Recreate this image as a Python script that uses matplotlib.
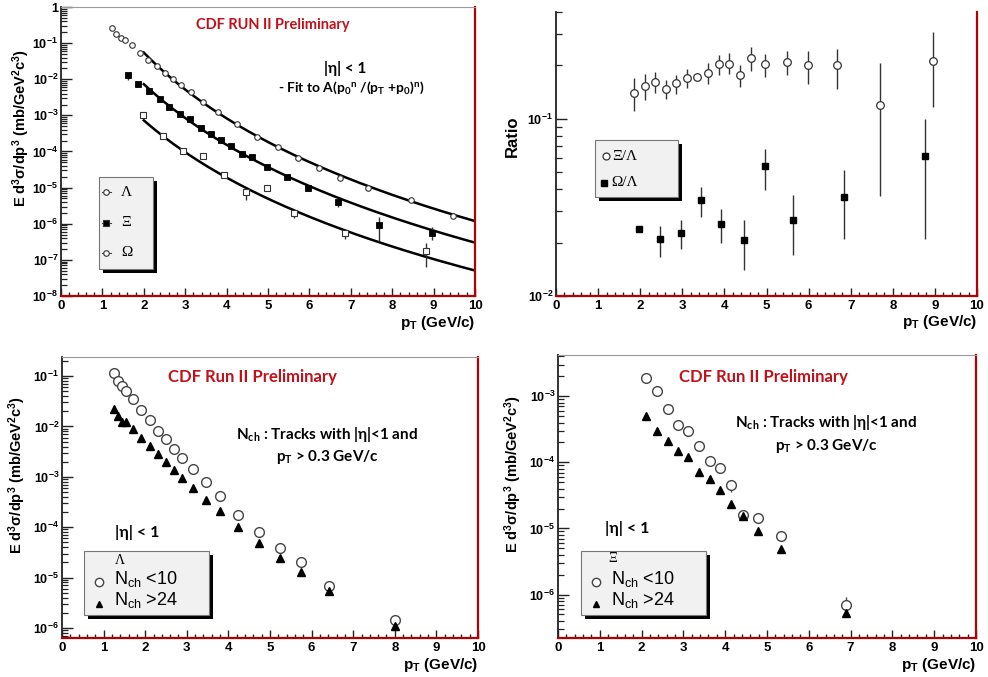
import numpy as np
import matplotlib
matplotlib.use('Agg')
import matplotlib.pyplot as plt
from matplotlib.ticker import LogLocator, FuncFormatter, MultipleLocator, NullFormatter
from matplotlib.patches import Rectangle
from matplotlib.lines import Line2D

plt.rcParams['font.family'] = ['Liberation Sans', 'DejaVu Sans']
plt.rcParams['font.weight'] = 'bold'
plt.rcParams['mathtext.default'] = 'regular'

# ---------------- data: top-left (spectra with fits) ----------------
lam_pt = [1.24, 1.34, 1.44, 1.55, 1.71, 1.91, 2.09, 2.31, 2.51, 2.71, 2.91, 3.13, 3.44, 3.80,
          4.24, 4.73, 5.23, 5.73, 6.24, 6.74, 7.42, 8.45, 9.46]
lam_y = [0.268, 0.183, 0.142, 0.125, 0.087, 0.053, 0.035, 0.0234, 0.015, 0.010, 0.0068, 0.0044,
         0.0024, 0.00125, 5.6e-4, 2.6e-4, 1.35e-4, 6.7e-5, 3.5e-5, 1.9e-5, 9.5e-6, 4.5e-6, 1.6e-6]

xi_pt = [1.61, 1.85, 2.13, 2.38, 2.62, 2.87, 3.12, 3.37, 3.62, 3.86, 4.11, 4.38, 4.61, 4.98,
         5.47, 5.97, 6.68, 7.68, 8.97]
xi_y = [0.0129, 0.0076, 0.0047, 0.0028, 0.0017, 0.00112, 7.8e-4, 4.6e-4, 3.1e-4, 2.06e-4,
        1.43e-4, 8.3e-5, 7.1e-5, 3.8e-5, 2.0e-5, 1.0e-5, 3.9e-6, 9.1e-7, 5.6e-7]
xi_edn = [0.0035, 0, 0, 0, 0, 0, 0, 0, 0, 0, 0, 0, 0, 0, 0, 0, 1.0e-6, 5.8e-7, 2.1e-7]
xi_eup = [0, 0, 0, 0, 0, 0, 0, 0, 0, 0, 0, 0, 0, 0, 0, 0, 1.0e-6, 6.0e-7, 2.4e-7]

om_pt = [1.99, 2.47, 2.95, 3.44, 3.94, 4.48, 4.98, 5.63, 6.86, 8.81]
om_y = [1.0e-3, 2.7e-4, 1.0e-4, 7.6e-5, 2.3e-5, 7.6e-6, 1.0e-5, 2.0e-6, 5.6e-7, 1.8e-7]
om_edn = [0, 0, 0, 0, 5e-6, 3e-6, 0, 6e-7, 1.8e-7, 1.15e-7]
om_eup = [0, 0, 0, 0, 0, 0, 0, 3e-7, 0, 1.1e-7]

# fit parameters A * p0^n / (pT + p0)^n  (Lambda, Xi, Omega)
fit_A = [336.5, 12.6, 0.735]
fit_p0 = [1.10, 1.38, 1.45]
fit_n = [8.42, 8.32, 7.98]
fit_range = [2.0, 10.0]

# ---------------- data: top-right (ratios) ----------------
rxi_pt = [1.86, 2.11, 2.36, 2.62, 2.86, 3.11, 3.36, 3.62, 3.88, 4.12, 4.37, 4.63, 4.97, 5.48,
          5.99, 6.68, 7.69, 8.96]
rxi_y = [0.1395, 0.153, 0.162, 0.1476, 0.159, 0.169, 0.171, 0.182, 0.204, 0.204, 0.177, 0.219,
         0.204, 0.208, 0.200, 0.200, 0.120, 0.211]
rxi_lo = [0.110, 0.128, 0.1395, 0.1284, 0.1371, 0.1488, 0.166, 0.1573, 0.1754, 0.179, 0.1508,
          0.187, 0.173, 0.1776, 0.1573, 0.1475, 0.0367, 0.1163]
rxi_hi = [0.1694, 0.179, 0.1846, 0.1658, 0.1754, 0.1896, 0.176, 0.2065, 0.2292, 0.2352, 0.2014,
          0.2531, 0.2322, 0.2424, 0.2404, 0.2477, 0.2065, 0.3074]

rom_pt = [1.97, 2.47, 2.96, 3.44, 3.91, 4.46, 4.97, 5.63, 6.84, 8.77]
rom_y = [0.0239, 0.0209, 0.0226, 0.0348, 0.0256, 0.0207, 0.0541, 0.027, 0.036, 0.0614]
rom_lo = [0.0239, 0.0165, 0.0183, 0.028, 0.020, 0.0141, 0.0398, 0.017, 0.0209, 0.0209]
rom_hi = [0.0239, 0.0249, 0.0268, 0.041, 0.0309, 0.0268, 0.0672, 0.037, 0.0512, 0.100]

# ---------------- data: bottom-left (Lambda vs multiplicity) ----------------
bl_pt = [1.24, 1.35, 1.45, 1.55, 1.71, 1.91, 2.11, 2.31, 2.51, 2.69, 2.89, 3.14, 3.45, 3.79,
         4.23, 4.74, 5.25, 5.75, 6.43, 8.01]
bl_low = [0.113, 0.0796, 0.0634, 0.0504, 0.0345, 0.0212, 0.0134, 0.00826, 0.00556, 0.00358,
          0.00234, 0.00144, 8.05e-4, 4.13e-4, 1.76e-4, 7.87e-5, 3.79e-5, 2.03e-5, 6.9e-6, 1.46e-6]
bl_high = [0.0222, 0.0161, 0.0124, 0.0124, 0.00877, 0.0060, 0.0041, 0.00285, 0.00195, 0.00137,
           9.4e-4, 6.1e-4, 3.39e-4, 2.05e-4, 1.0e-4, 4.76e-5, 2.44e-5, 1.27e-5, 5.33e-6, 1.11e-6]

# ---------------- data: bottom-right (Xi vs multiplicity) ----------------
br_pt = [2.11, 2.38, 2.62, 2.88, 3.12, 3.38, 3.64, 3.88, 4.13, 4.43, 4.79, 5.33, 6.89]
br_low = [1.89e-3, 1.2e-3, 6.3e-4, 3.65e-4, 2.97e-4, 1.76e-4, 1.06e-4, 8.1e-5, 4.55e-5,
          1.61e-5, 1.43e-5, 7.57e-6, 6.9e-7]
br_high = [5.06e-4, 3.0e-4, 2.1e-4, 1.48e-4, 1.22e-4, 7.2e-5, 5.6e-5, 3.8e-5, 2.33e-5,
           1.52e-5, 9.3e-6, 4.93e-6, 5.3e-7]
br_low_edn = [0, 0, 0, 0, 0, 0, 0, 0, 1.05e-5, 0, 0, 0, 1.3e-7]
br_low_eup = [0, 0, 0, 0, 0, 0, 0, 0, 0, 0, 0, 0, 2.2e-7]

# ---------------- layout helpers ----------------
W, H = 988, 677
fig = plt.figure(figsize=(W / 100, H / 100), dpi=100)

def F(px, py):
    return (px / W, 1 - py / H)

def add_ax(x0, y0, x1, y1):
    return fig.add_axes([x0 / W, 1 - y1 / H, (x1 - x0) / W, (y1 - y0) / H])

RED = '#b40000'
TXTRED = '#c0101a'

def yfmt(v, p):
    if abs(v - 1) < 1e-12:
        return '1'
    return r'10$^{%d}$' % int(round(np.log10(v)))

def style(ax, ylim, top=True):
    ax.set_xlim(0, 10)
    ax.set_yscale('log')
    ax.set_ylim(*ylim)
    ax.xaxis.set_major_locator(MultipleLocator(1))
    ax.xaxis.set_minor_locator(MultipleLocator(0.2))
    ax.xaxis.set_major_formatter(FuncFormatter(lambda v, p: '%g' % v))
    ax.yaxis.set_major_locator(LogLocator(base=10, numticks=30))
    ax.yaxis.set_minor_locator(LogLocator(base=10, subs=np.arange(2, 10), numticks=30))
    ax.yaxis.set_major_formatter(FuncFormatter(yfmt))
    ax.yaxis.set_minor_formatter(NullFormatter())
    ax.tick_params(axis='x', which='major', direction='in', length=6, width=1.0,
                   labelsize=9.5, pad=3, top=False, color='#222222')
    ax.tick_params(axis='x', which='minor', direction='in', length=3, width=1.0,
                   top=False, color='#222222')
    ax.tick_params(axis='y', which='major', direction='in', length=8, width=1.0,
                   labelsize=9, pad=2, right=False, color='#222222')
    ax.tick_params(axis='y', which='minor', direction='in', length=4.5, width=0.9,
                   right=False, color='#222222')
    ax.spines['bottom'].set_color(RED)
    ax.spines['bottom'].set_linewidth(1.6)
    ax.spines['right'].set_color(RED)
    ax.spines['right'].set_linewidth(1.6)
    ax.spines['left'].set_color('#222222')
    ax.spines['left'].set_linewidth(1.3)
    if top:
        ax.spines['top'].set_color('#9a9a9a')
        ax.spines['top'].set_linewidth(0.8)
    else:
        ax.spines['top'].set_visible(False)
    ax.set_facecolor('white')

def legend_box(x0, y0, x1, y1, off=4):
    w, h = (x1 - x0) / W, (y1 - y0) / H
    fig.add_artist(Rectangle(F(x0 + off, y1 + off), w, h, transform=fig.transFigure,
                             facecolor='black', edgecolor='none', zorder=10))
    fig.add_artist(Rectangle(F(x0, y1), w, h, transform=fig.transFigure,
                             facecolor='#f1f1f1', edgecolor='#777777', linewidth=0.8, zorder=11))

def fig_marker(px, py, **kw):
    x, y = F(px, py)
    fig.add_artist(Line2D([x], [y], transform=fig.transFigure, linestyle='none', zorder=12, **kw))

def fig_line(px0, px1, py, **kw):
    x0, y = F(px0, py)
    x1, _ = F(px1, py)
    fig.add_artist(Line2D([x0, x1], [y, y], transform=fig.transFigure, zorder=12, **kw))

def ftext(px, py, s, **kw):
    x, y = F(px, py)
    kw.setdefault('ha', 'center')
    kw.setdefault('va', 'center')
    kw.setdefault('zorder', 13)
    fig.text(x, y, s, **kw)

YLAB = 'E d$^{3}$σ/dp$^{3}$ (mb/GeV$^{2}$c$^{3}$)'
XLAB = 'p$_{T}$ (GeV/c)'
CAL = ['Lato', 'DejaVu Sans']
SERIF = ['Liberation Serif', 'DejaVu Serif']

# ================= top-left =================
ax1 = add_ax(61, 7, 475, 296)
style(ax1, (1e-8, 1.0))
xs = np.linspace(fit_range[0], fit_range[1], 200)
for A, p0, n in zip(fit_A, fit_p0, fit_n):
    ax1.plot(xs, A * p0 ** n / (xs + p0) ** n, color='black', lw=1.8, zorder=2)
ax1.errorbar(xi_pt, xi_y, yerr=[xi_edn, xi_eup], fmt='none', ecolor='#333333', elinewidth=1, zorder=3)
ax1.errorbar(om_pt, om_y, yerr=[om_edn, om_eup], fmt='none', ecolor='#333333', elinewidth=1, zorder=3)
ax1.plot(lam_pt, lam_y, 'o', ms=4, mfc='white', mec='#333333', mew=0.8, zorder=4)
ax1.plot(xi_pt, xi_y, 's', ms=4, mfc='black', mec='black', mew=0.6, zorder=4)
ax1.plot(om_pt, om_y, 's', ms=4.5, mfc='white', mec='#333333', mew=0.8, zorder=4)

ftext(273, 25, 'CDF RUN II Preliminary', color=TXTRED, fontsize=10.5, family=CAL)
ftext(345, 68, '|η| < 1', fontsize=11, family=CAL)
ftext(351, 88, '- Fit to A(p$_{0}$$^{n}$ /(p$_{T}$ +p$_{0}$)$^{n}$)', fontsize=10, family=CAL)
ftext(475, 323, XLAB, ha='right', fontsize=11)
ftext(21, 128, YLAB, rotation=90, fontsize=10.5)

legend_box(99, 177, 153, 269)
for py, mk, fc, lab in [(192, 'o', 'white', 'Λ'), (223, 's', 'black', 'Ξ'), (253, 'o', 'white', 'Ω')]:
    fig_line(102, 111, py, color='#444444', lw=0.8)
    fig_marker(106, py, marker=mk, ms=4, mfc=fc, mec='#333333', mew=0.8)
    ftext(121, py, lab, ha='left', fontsize=11, family=SERIF, fontweight='normal')

# ================= top-right =================
ax2 = add_ax(556, 12, 977, 296)
style(ax2, (0.01, 0.4), top=False)
rxi_y_a = np.array(rxi_y)
ax2.errorbar(rxi_pt, rxi_y, yerr=[rxi_y_a - np.array(rxi_lo), np.array(rxi_hi) - rxi_y_a],
             fmt='none', ecolor='#333333', elinewidth=1, zorder=3)
rom_y_a = np.array(rom_y)
ax2.errorbar(rom_pt, rom_y, yerr=[rom_y_a - np.array(rom_lo), np.array(rom_hi) - rom_y_a],
             fmt='none', ecolor='#333333', elinewidth=1, zorder=3)
ax2.plot(rxi_pt, rxi_y, 'o', ms=5.5, mfc='white', mec='#333333', mew=0.9, zorder=4)
ax2.plot(rom_pt, rom_y, 's', ms=5, mfc='black', mec='black', zorder=4)
ftext(512, 136, 'Ratio', rotation=90, fontsize=12)
ftext(977, 322, XLAB, ha='right', fontsize=11)

legend_box(595, 140, 678, 197)
fig_marker(606, 156, marker='o', ms=5, mfc='white', mec='#333333', mew=0.9)
ftext(612, 156, 'Ξ/Λ', ha='left', fontsize=11, family=SERIF, fontweight='normal')
fig_marker(604, 183, marker='s', ms=4.5, mfc='black', mec='black')
ftext(611, 183, 'Ω/Λ', ha='left', fontsize=11, family=SERIF, fontweight='normal')

# ================= bottom-left =================
ax3 = add_ax(62, 357, 478, 638)
style(ax3, (6.3e-7, 0.24))
ax3.plot(bl_pt, bl_low, 'o', ms=7, mfc='white', mec='#444444', mew=1.0, zorder=4)
ax3.plot(bl_pt, bl_high, '^', ms=5.5, mfc='black', mec='black', zorder=5)
ftext(252, 377, 'CDF Run II Preliminary', color=TXTRED, fontsize=12, family=CAL)
ftext(327, 434, 'N$_{ch}$ : Tracks with |η|<1 and', fontsize=11, family=CAL)
ftext(327, 457, 'p$_{T}$ > 0.3 GeV/c', fontsize=11, family=CAL)
ftext(137, 532, '|η| < 1', fontsize=11.5, family=CAL)
ftext(478, 665, XLAB, ha='right', fontsize=11)
ftext(17, 475, YLAB, rotation=90, fontsize=10.5)

legend_box(84, 551, 209, 615)
ftext(120, 561, 'Λ', ha='center', fontsize=10, family=SERIF, fontweight='normal')
fig_marker(99, 582, marker='o', ms=6, mfc='white', mec='#444444', mew=1.0)
ftext(114, 579, 'N$_{ch}$ <10', ha='left', fontsize=13, fontweight='normal')
fig_marker(99, 604, marker='^', ms=5, mfc='black', mec='black')
ftext(114, 600, 'N$_{ch}$ >24', ha='left', fontsize=13, fontweight='normal')

# ================= bottom-right =================
ax4 = add_ax(558, 355, 976, 638)
style(ax4, (2.2e-7, 4.2e-3))
ax4.errorbar(br_pt, br_low, yerr=[br_low_edn, br_low_eup], fmt='none', ecolor='#444444',
             elinewidth=1, zorder=3)
ax4.plot(br_pt, br_low, 'o', ms=7, mfc='white', mec='#444444', mew=1.0, zorder=4)
ax4.plot(br_pt, br_high, '^', ms=5.5, mfc='black', mec='black', zorder=5)
ftext(763, 377, 'CDF Run II Preliminary', color=TXTRED, fontsize=12, family=CAL)
ftext(826, 422, 'N$_{ch}$ : Tracks with |η|<1 and', fontsize=11, family=CAL)
ftext(826, 446, 'p$_{T}$ > 0.3 GeV/c', fontsize=11, family=CAL)
ftext(627, 529, '|η| < 1', fontsize=11.5, family=CAL)
ftext(976, 665, XLAB, ha='right', fontsize=11)
ftext(513, 474, YLAB, rotation=90, fontsize=10.5)

legend_box(581, 551, 706, 615)
ftext(613, 559, 'Ξ', ha='center', fontsize=10, family=SERIF, fontweight='normal')
fig_marker(596, 582, marker='o', ms=6, mfc='white', mec='#444444', mew=1.0)
ftext(611, 579, 'N$_{ch}$ <10', ha='left', fontsize=13, fontweight='normal')
fig_marker(596, 604, marker='^', ms=5, mfc='black', mec='black')
ftext(611, 600, 'N$_{ch}$ >24', ha='left', fontsize=13, fontweight='normal')

fig.savefig('out.png', dpi=100, facecolor='white')
